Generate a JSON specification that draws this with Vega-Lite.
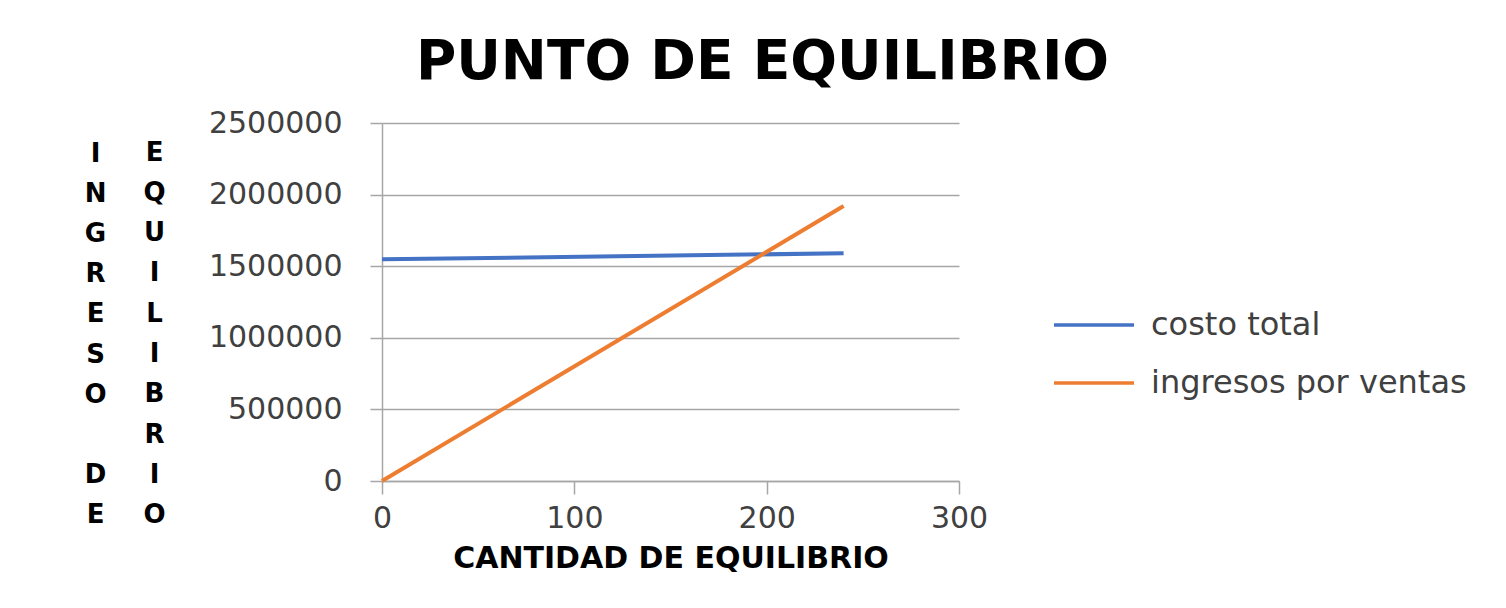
{
  "$schema": "https://vega.github.io/schema/vega-lite/v6.json",
  "width": 577,
  "height": 358,
  "autosize": {"type": "none"},
  "padding": {"left": 382, "top": 123, "right": 547, "bottom": 127},
  "background": "white",
  "title": {
    "text": "PUNTO DE EQUILIBRIO",
    "font": "DejaVu Sans",
    "fontSize": 55,
    "fontWeight": "bold",
    "color": "#000000",
    "anchor": "middle",
    "dx": 92,
    "baseline": "alphabetic",
    "offset": -26
  },
  "data": {
    "values": [
      {"cantidad": 0, "valor": 1548000, "serie": "costo total"},
      {"cantidad": 240, "valor": 1590000, "serie": "costo total"},
      {"cantidad": 0, "valor": 0, "serie": "ingresos por ventas"},
      {"cantidad": 240, "valor": 1920000, "serie": "ingresos por ventas"}
    ]
  },
  "config": {
    "view": {"stroke": null}
  },
  "layer": [
    {
      "transform": [{"filter": "datum.serie == 'costo total'"}],
      "mark": {"type": "line", "strokeWidth": 4},
      "encoding": {
        "x": {
          "field": "cantidad",
          "type": "quantitative",
          "scale": {"domain": [0, 300], "nice": false},
          "axis": {
            "title": "CANTIDAD DE EQUILIBRIO",
            "values": [0, 100, 200, 300],
            "format": "d",
            "grid": false,
            "labelFlush": false,
            "labelFont": "DejaVu Sans",
            "labelFontSize": 30,
            "labelColor": "#404040",
            "labelPadding": 9,
            "tickSize": 13,
            "tickColor": "#A6A6A6",
            "tickWidth": 1.5,
            "domainColor": "#A6A6A6",
            "domainWidth": 1.5,
            "titleFont": "DejaVu Sans",
            "titleFontSize": 30,
            "titleFontWeight": "bold",
            "titleColor": "#000000",
            "titlePadding": 10
          }
        },
        "y": {
          "field": "valor",
          "type": "quantitative",
          "scale": {"domain": [0, 2500000], "nice": false},
          "axis": {
            "title": ["I", "N", "G", "R", "E", "S", "O", "\u200b", "D", "E"],
            "titleAngle": 0,
            "titleX": -287,
            "titleY": 30,
            "titleAlign": "center",
            "titleBaseline": "middle",
            "titleLineHeight": 40.2,
            "titleFont": "DejaVu Sans",
            "titleFontSize": 26,
            "titleFontWeight": "bold",
            "titleColor": "#000000",
            "values": [0, 500000, 1000000, 1500000, 2000000, 2500000],
            "format": "d",
            "labelFont": "DejaVu Sans",
            "labelFontSize": 30,
            "labelColor": "#404040",
            "labelPadding": 28,
            "tickSize": 12,
            "tickColor": "#A6A6A6",
            "tickWidth": 1.5,
            "domainColor": "#A6A6A6",
            "domainWidth": 1.5,
            "grid": true,
            "gridColor": "#A6A6A6",
            "gridWidth": 1.5
          }
        },
        "color": {
          "field": "serie",
          "type": "nominal",
          "scale": {"domain": ["costo total", "ingresos por ventas"], "range": ["#4472C4", "#ED7D31"]},
          "legend": {
            "orient": "none",
            "legendX": 670,
            "legendY": 160,
            "padding": 0,
            "title": null,
            "symbolType": "M-1,0L1,0",
            "symbolSize": 6400,
            "symbolStrokeWidth": 3.5,
            "labelFont": "DejaVu Sans",
            "labelFontSize": 32,
            "labelColor": "#404040",
            "labelOffset": 15,
            "labelLimit": 0,
            "rowPadding": 0
          }
        }
      }
    },
    {
      "transform": [{"filter": "datum.serie == 'ingresos por ventas'"}],
      "mark": {"type": "line", "strokeWidth": 4},
      "encoding": {
        "x": {
          "field": "cantidad",
          "type": "quantitative",
          "scale": {"domain": [0, 300], "nice": false}
        },
        "y": {
          "field": "valor",
          "type": "quantitative",
          "scale": {"domain": [0, 2500000], "nice": false},
          "axis": {
            "orient": "left",
            "title": ["E", "Q", "U", "I", "L", "I", "B", "R", "I", "O"],
            "titleAngle": 0,
            "titleX": -228,
            "titleY": 29,
            "titleAlign": "center",
            "titleBaseline": "middle",
            "titleLineHeight": 40.3,
            "titleFont": "DejaVu Sans",
            "titleFontSize": 26,
            "titleFontWeight": "bold",
            "titleColor": "#000000",
            "labels": false,
            "ticks": false,
            "domain": false,
            "grid": false
          }
        },
        "color": {
          "field": "serie",
          "type": "nominal",
          "scale": {"domain": ["costo total", "ingresos por ventas"], "range": ["#4472C4", "#ED7D31"]}
        }
      }
    }
  ],
  "resolve": {"scale": {"y": "independent"}}
}
